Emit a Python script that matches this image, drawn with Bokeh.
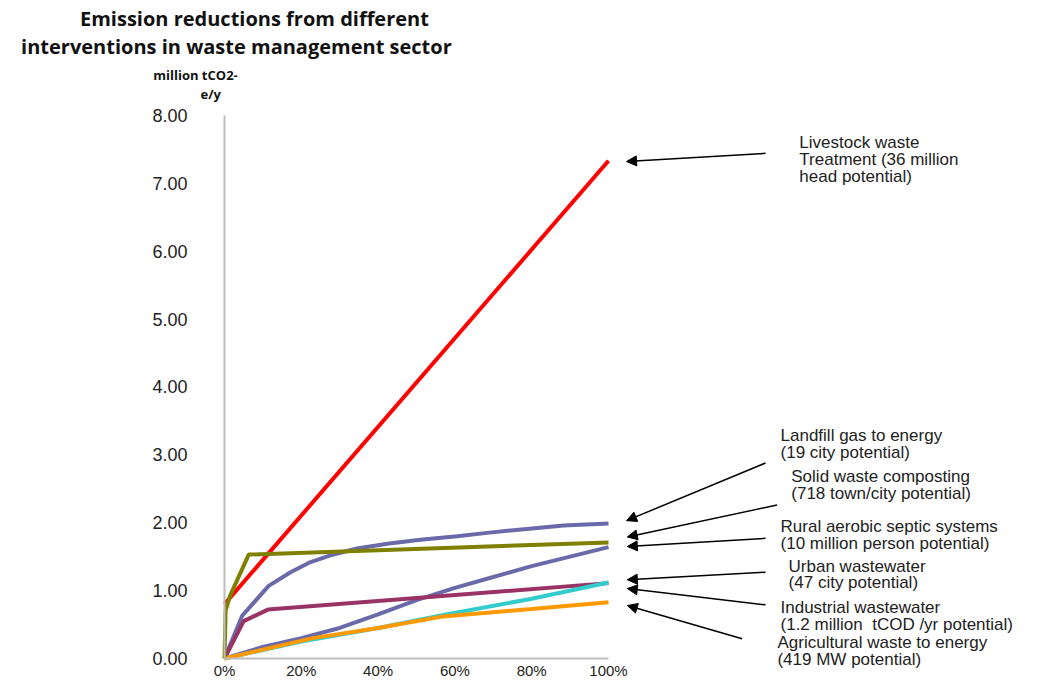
from bokeh.plotting import figure
from bokeh.models import Range1d, FixedTicker, PrintfTickFormatter, Label, Arrow, NormalHead, LinearAxis
from bokeh.embed import file_html
from bokeh.resources import INLINE

# ---- data ----
livestock_x = [0, 100]
livestock_y = [0.80, 7.33]

landfill_x = [0, 4.6, 11.5, 17.2, 22.4, 27.6, 34.5, 42.4, 51, 60.6, 68.4, 75.3, 88.3, 100]
landfill_y = [0, 0.63, 1.07, 1.27, 1.42, 1.52, 1.62, 1.69, 1.75, 1.80, 1.85, 1.89, 1.96, 1.99]

composting_x = [0, 10, 20, 30, 40, 50, 60, 70, 80, 90, 100]
composting_y = [0, 0.17, 0.30, 0.45, 0.65, 0.86, 1.04, 1.20, 1.36, 1.50, 1.64]

septic_x = [0, 0.3, 1.5, 6.3, 100]
septic_y = [0, 0.71, 0.93, 1.53, 1.71]

urban_x = [0, 5, 11.3, 100]
urban_y = [0, 0.55, 0.72, 1.11]

industrial_x = [0, 20, 40, 57, 80, 100]
industrial_y = [0, 0.25, 0.45, 0.64, 0.88, 1.12]

agri_x = [0, 10, 23, 40, 57, 80, 100]
agri_y = [0, 0.13, 0.30, 0.45, 0.62, 0.73, 0.83]

x_ticks = [0, 20, 40, 60, 80, 100]
x_tick_labels = ["0%", "20%", "40%", "60%", "80%", "100%"]
y_ticks = [0, 1, 2, 3, 4, 5, 6, 7, 8]

title_lines = ["Emission reductions from different",
               "interventions in waste management sector"]
y_label_lines = ["million tCO2-", "e/y"]

annotations = [
    ["Livestock waste", "Treatment (36 million", "head potential)"],
    ["Landfill gas to energy", "(19 city potential)"],
    ["Solid waste composting", "(718 town/city potential)"],
    ["Rural aerobic septic systems", "(10 million person potential)"],
    ["Urban wastewater", "(47 city potential)"],
    ["Industrial wastewater", "(1.2 million\u00a0 tCOD /yr potential)"],
    ["Agricultural waste to energy", "(419 MW potential)"],
]
# ---- layout (positions in data units) ----
arrow_end = [(104.7, 7.32), (104.7, 2.03), (104.9, 1.79), (104.9, 1.65), (104.9, 1.16), (104.9, 1.03), (104.9, 0.78)]
arrow_start = [(140.9, 7.44), (140.9, 2.88), (143.9, 2.26), (140.9, 1.77), (140.9, 1.27), (140.9, 0.79), (134.8, 0.29)]
label_pos = [(149.7, 7.60), (144.8, 3.28), (147.6, 2.68), (144.8, 1.94), (146.9, 1.36), (144.8, 0.75), (144.0, 0.24)]

PX_PER_X = 3.84
PX_PER_Y = 67.9
W, H = 1021, 677
x_start = -224 / PX_PER_X
y_end = 658 / PX_PER_Y

p = figure(width=W, height=H, output_backend="svg", toolbar_location=None,
           x_range=Range1d(x_start, x_start + W / PX_PER_X),
           y_range=Range1d(y_end - H / PX_PER_Y, y_end),
           x_axis_location=None, y_axis_location=None,
           min_border=0)
p.outline_line_color = None
p.grid.visible = False
p.background_fill_color = "white"
p.border_fill_color = "white"

xax = LinearAxis(fixed_location=0)
yax = LinearAxis(fixed_location=0)
for ax in (xax, yax):
    ax.axis_line_color = "#BDBDBD"
    ax.axis_line_width = 2
    ax.major_tick_line_color = None
    ax.minor_tick_line_color = None
    ax.major_tick_out = 0
    ax.major_tick_in = 0
    ax.minor_tick_out = 0
    ax.minor_tick_in = 0
    ax.major_label_text_font = "Liberation Sans"
    ax.major_label_text_color = "#222222"

xax.ticker = FixedTicker(ticks=x_ticks)
xax.major_label_overrides = {t: l for t, l in zip(x_ticks, x_tick_labels)}
xax.bounds = (0, 100)
xax.major_label_text_font_size = "15px"
xax.major_label_standoff = 3

yax.ticker = FixedTicker(ticks=y_ticks)
yax.formatter = PrintfTickFormatter(format="%.2f")
yax.bounds = (0, 8)
yax.major_label_text_font_size = "18px"
yax.major_label_standoff = 37

p.add_layout(xax, "below")
p.add_layout(yax, "left")

lw = 4
p.line(livestock_x, livestock_y, line_color="#FF0000", line_width=lw)
p.line(landfill_x, landfill_y, line_color="#6A6AAA", line_width=lw)
p.line(composting_x, composting_y, line_color="#6A6AAA", line_width=lw)
p.line(urban_x, urban_y, line_color="#993366", line_width=lw)
p.line(industrial_x, industrial_y, line_color="#33CCCC", line_width=lw)
p.line(agri_x, agri_y, line_color="#FF9900", line_width=lw)
p.line(septic_x, septic_y, line_color="#808000", line_width=lw)

for (xs, ys), (xe, ye) in zip(arrow_start, arrow_end):
    p.add_layout(Arrow(end=NormalHead(size=10, fill_color="black", line_color="black"),
                       x_start=xs, y_start=ys, x_end=xe, y_end=ye,
                       line_color="black", line_width=1.5))

line_gap = 16.8 / PX_PER_Y
for lines, (lx, ly) in zip(annotations, label_pos):
    for i, t in enumerate(lines):
        p.add_layout(Label(x=lx, y=ly - i * line_gap, text=t, text_font="Liberation Sans",
                           text_font_size="17px", text_color="#222222",
                           text_baseline="middle", text_align="left"))

title_pos = [(7.8, 9.43), (3.1, 9.01)]
for t, (tx, ty) in zip(title_lines, title_pos):
    p.add_layout(Label(x=tx, y=ty, text=t, text_font="Open Sans", text_font_style="bold",
                       text_font_size="20px", text_color="#111111",
                       text_baseline="middle", text_align="center"))

ylab_pos = [(-7.55, 8.60), (-3.6, 8.32)]
for t, (tx, ty) in zip(y_label_lines, ylab_pos):
    p.add_layout(Label(x=tx, y=ty, text=t, text_font="Open Sans", text_font_style="bold",
                       text_font_size="13px", text_color="#111111",
                       text_baseline="middle", text_align="center"))

open("out.html", "w").write(file_html(p, INLINE))
